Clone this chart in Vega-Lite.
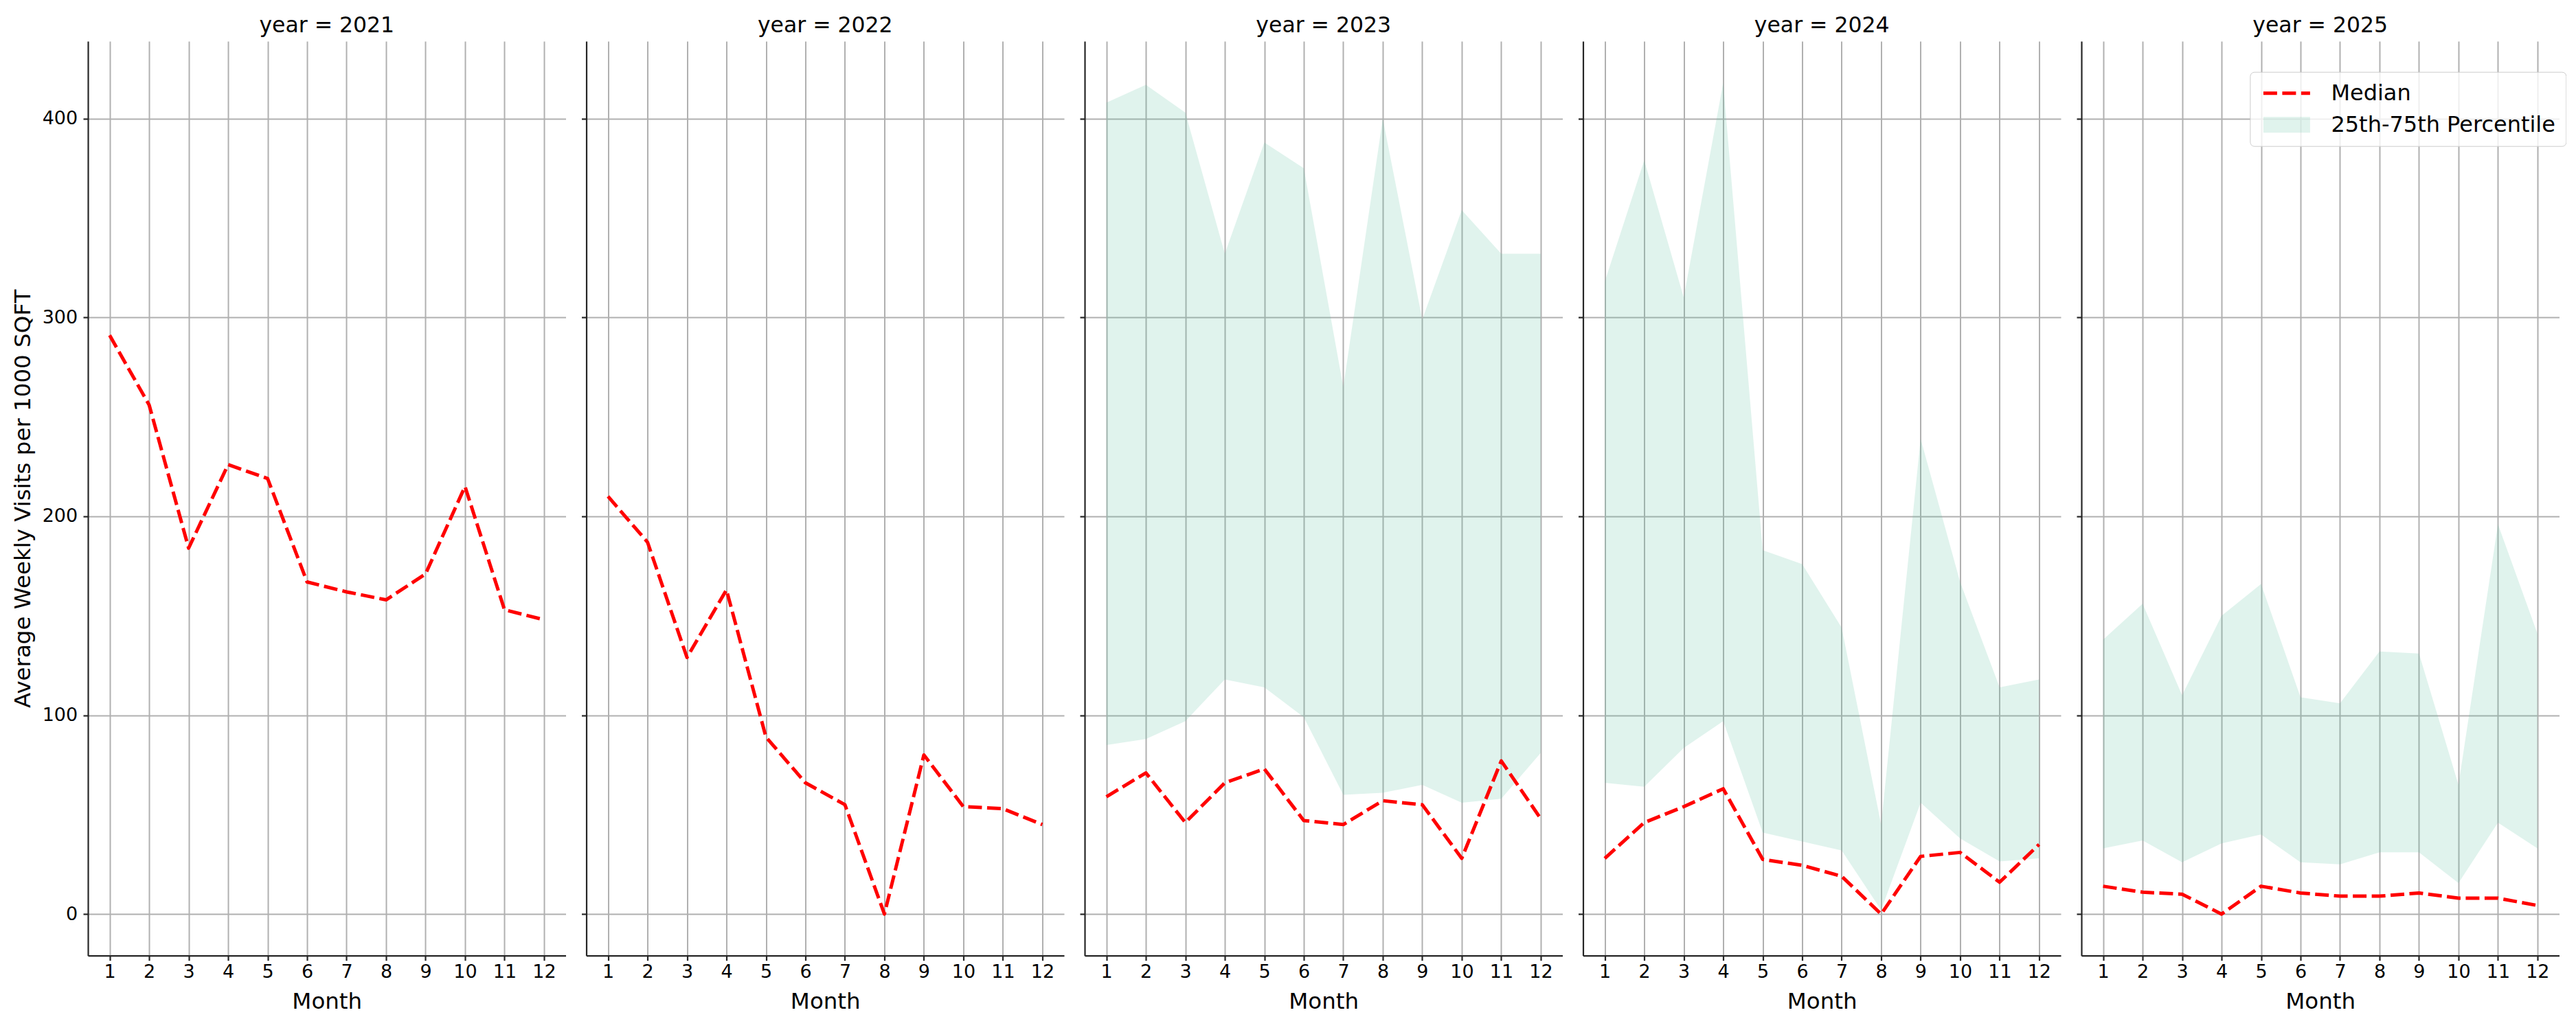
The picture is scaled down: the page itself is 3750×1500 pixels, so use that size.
{
  "$schema": "https://vega.github.io/schema/vega-lite/v6.json",
  "background": "white",
  "padding": {"left": 17, "top": 21, "right": 0, "bottom": 20},
  "spacing": 29.5,
  "bounds": "flush",
  "datasets": {
    "visits": [
      {"year": 2021, "month": 1, "median": 291, "p25": null, "p75": null},
      {"year": 2021, "month": 2, "median": 256, "p25": null, "p75": null},
      {"year": 2021, "month": 3, "median": 184, "p25": null, "p75": null},
      {"year": 2021, "month": 4, "median": 226, "p25": null, "p75": null},
      {"year": 2021, "month": 5, "median": 219, "p25": null, "p75": null},
      {"year": 2021, "month": 6, "median": 167, "p25": null, "p75": null},
      {"year": 2021, "month": 7, "median": 162, "p25": null, "p75": null},
      {"year": 2021, "month": 8, "median": 158, "p25": null, "p75": null},
      {"year": 2021, "month": 9, "median": 171, "p25": null, "p75": null},
      {"year": 2021, "month": 10, "median": 215, "p25": null, "p75": null},
      {"year": 2021, "month": 11, "median": 153, "p25": null, "p75": null},
      {"year": 2021, "month": 12, "median": 148, "p25": null, "p75": null},
      {"year": 2022, "month": 1, "median": 210, "p25": null, "p75": null},
      {"year": 2022, "month": 2, "median": 187, "p25": null, "p75": null},
      {"year": 2022, "month": 3, "median": 129, "p25": null, "p75": null},
      {"year": 2022, "month": 4, "median": 163, "p25": null, "p75": null},
      {"year": 2022, "month": 5, "median": 89, "p25": null, "p75": null},
      {"year": 2022, "month": 6, "median": 66, "p25": null, "p75": null},
      {"year": 2022, "month": 7, "median": 55, "p25": null, "p75": null},
      {"year": 2022, "month": 8, "median": 0, "p25": null, "p75": null},
      {"year": 2022, "month": 9, "median": 80, "p25": null, "p75": null},
      {"year": 2022, "month": 10, "median": 54, "p25": null, "p75": null},
      {"year": 2022, "month": 11, "median": 53, "p25": null, "p75": null},
      {"year": 2022, "month": 12, "median": 45, "p25": null, "p75": null},
      {"year": 2023, "month": 1, "median": 59, "p25": 85, "p75": 408},
      {"year": 2023, "month": 2, "median": 71, "p25": 88, "p75": 417},
      {"year": 2023, "month": 3, "median": 46, "p25": 97, "p75": 403},
      {"year": 2023, "month": 4, "median": 66, "p25": 118, "p75": 332},
      {"year": 2023, "month": 5, "median": 73, "p25": 114, "p75": 388},
      {"year": 2023, "month": 6, "median": 47, "p25": 99, "p75": 375},
      {"year": 2023, "month": 7, "median": 45, "p25": 60, "p75": 265},
      {"year": 2023, "month": 8, "median": 57, "p25": 61, "p75": 400},
      {"year": 2023, "month": 9, "median": 55, "p25": 65, "p75": 299},
      {"year": 2023, "month": 10, "median": 28, "p25": 56, "p75": 354},
      {"year": 2023, "month": 11, "median": 77, "p25": 58, "p75": 332},
      {"year": 2023, "month": 12, "median": 48, "p25": 81, "p75": 332},
      {"year": 2024, "month": 1, "median": 28, "p25": 66, "p75": 318},
      {"year": 2024, "month": 2, "median": 46, "p25": 64, "p75": 379},
      {"year": 2024, "month": 3, "median": 54, "p25": 83.5, "p75": 310},
      {"year": 2024, "month": 4, "median": 63, "p25": 97, "p75": 418},
      {"year": 2024, "month": 5, "median": 27.5, "p25": 41, "p75": 183},
      {"year": 2024, "month": 6, "median": 24.5, "p25": 36.5, "p75": 176},
      {"year": 2024, "month": 7, "median": 19, "p25": 32, "p75": 144},
      {"year": 2024, "month": 8, "median": 0, "p25": 2, "p75": 45},
      {"year": 2024, "month": 9, "median": 29, "p25": 56, "p75": 239},
      {"year": 2024, "month": 10, "median": 31, "p25": 38, "p75": 167},
      {"year": 2024, "month": 11, "median": 16, "p25": 26.5, "p75": 114},
      {"year": 2024, "month": 12, "median": 35, "p25": 28, "p75": 118},
      {"year": 2025, "month": 1, "median": 14, "p25": 33, "p75": 138},
      {"year": 2025, "month": 2, "median": 11, "p25": 37, "p75": 156},
      {"year": 2025, "month": 3, "median": 10, "p25": 26, "p75": 110},
      {"year": 2025, "month": 4, "median": 0, "p25": 35.5, "p75": 150},
      {"year": 2025, "month": 5, "median": 14, "p25": 40, "p75": 166},
      {"year": 2025, "month": 6, "median": 10.6, "p25": 26, "p75": 109},
      {"year": 2025, "month": 7, "median": 9, "p25": 25, "p75": 106},
      {"year": 2025, "month": 8, "median": 9, "p25": 31, "p75": 132},
      {"year": 2025, "month": 9, "median": 10.6, "p25": 31, "p75": 131},
      {"year": 2025, "month": 10, "median": 8, "p25": 15.6, "p75": 65},
      {"year": 2025, "month": 11, "median": 8, "p25": 46, "p75": 196},
      {"year": 2025, "month": 12, "median": 4.3, "p25": 33, "p75": 141}
    ]
  },
  "hconcat": [
    {
      "width": 695.5,
      "height": 1331.7,
      "title": "year = 2021",
      "data": {"name": "visits"},
      "transform": [{"filter": "datum.year == 2021"}],
      "encoding": {
        "x": {"field": "month", "type": "quantitative", "scale": {"domain": [0.45, 12.55], "nice": false, "zero": false}, "axis": {"values": [1, 2, 3, 4, 5, 6, 7, 8, 9, 10, 11, 12], "format": "d", "title": "Month"}}
      },
      "layer": [
        {
          "mark": {"type": "line", "color": "#ff0000", "strokeWidth": 5, "strokeDash": [20, 7.5], "strokeJoin": "round"},
          "encoding": {
            "y": {"field": "median", "type": "quantitative", "scale": {"domain": [-20.9, 438.9], "nice": false, "zero": false}, "axis": {"values": [0, 100, 200, 300, 400], "title": "Average Weekly Visits per 1000 SQFT"}}
          }
        }
      ]
    },
    {
      "width": 695.5,
      "height": 1331.7,
      "title": "year = 2022",
      "data": {"name": "visits"},
      "transform": [{"filter": "datum.year == 2022"}],
      "encoding": {
        "x": {"field": "month", "type": "quantitative", "scale": {"domain": [0.45, 12.55], "nice": false, "zero": false}, "axis": {"values": [1, 2, 3, 4, 5, 6, 7, 8, 9, 10, 11, 12], "format": "d", "title": "Month"}}
      },
      "layer": [
        {
          "mark": {"type": "line", "color": "#ff0000", "strokeWidth": 5, "strokeDash": [20, 7.5], "strokeJoin": "round"},
          "encoding": {
            "y": {"field": "median", "type": "quantitative", "scale": {"domain": [-20.9, 438.9], "nice": false, "zero": false}, "axis": {"values": [0, 100, 200, 300, 400], "title": null, "labels": false}}
          }
        }
      ]
    },
    {
      "width": 695.5,
      "height": 1331.7,
      "title": "year = 2023",
      "data": {"name": "visits"},
      "transform": [{"filter": "datum.year == 2023"}],
      "encoding": {
        "x": {"field": "month", "type": "quantitative", "scale": {"domain": [0.45, 12.55], "nice": false, "zero": false}, "axis": {"values": [1, 2, 3, 4, 5, 6, 7, 8, 9, 10, 11, 12], "format": "d", "title": "Month"}}
      },
      "layer": [
        {
          "mark": {"type": "area", "color": "#66c2a5", "opacity": 0.2},
          "encoding": {
            "y": {"field": "p25", "type": "quantitative", "scale": {"domain": [-20.9, 438.9], "nice": false, "zero": false}, "axis": {"values": [0, 100, 200, 300, 400], "title": null, "labels": false}},
            "y2": {"field": "p75"}
          }
        },
        {
          "mark": {"type": "line", "color": "#ff0000", "strokeWidth": 5, "strokeDash": [20, 7.5], "strokeJoin": "round"},
          "encoding": {
            "y": {"field": "median", "type": "quantitative", "scale": {"domain": [-20.9, 438.9], "nice": false, "zero": false}, "axis": {"values": [0, 100, 200, 300, 400], "title": null, "labels": false}}
          }
        }
      ]
    },
    {
      "width": 695.5,
      "height": 1331.7,
      "title": "year = 2024",
      "data": {"name": "visits"},
      "transform": [{"filter": "datum.year == 2024"}],
      "encoding": {
        "x": {"field": "month", "type": "quantitative", "scale": {"domain": [0.45, 12.55], "nice": false, "zero": false}, "axis": {"values": [1, 2, 3, 4, 5, 6, 7, 8, 9, 10, 11, 12], "format": "d", "title": "Month"}}
      },
      "layer": [
        {
          "mark": {"type": "area", "color": "#66c2a5", "opacity": 0.2},
          "encoding": {
            "y": {"field": "p25", "type": "quantitative", "scale": {"domain": [-20.9, 438.9], "nice": false, "zero": false}, "axis": {"values": [0, 100, 200, 300, 400], "title": null, "labels": false}},
            "y2": {"field": "p75"}
          }
        },
        {
          "mark": {"type": "line", "color": "#ff0000", "strokeWidth": 5, "strokeDash": [20, 7.5], "strokeJoin": "round"},
          "encoding": {
            "y": {"field": "median", "type": "quantitative", "scale": {"domain": [-20.9, 438.9], "nice": false, "zero": false}, "axis": {"values": [0, 100, 200, 300, 400], "title": null, "labels": false}}
          }
        }
      ]
    },
    {
      "width": 695.5,
      "height": 1331.7,
      "title": "year = 2025",
      "data": {"name": "visits"},
      "transform": [{"filter": "datum.year == 2025"}],
      "encoding": {
        "x": {"field": "month", "type": "quantitative", "scale": {"domain": [0.45, 12.55], "nice": false, "zero": false}, "axis": {"values": [1, 2, 3, 4, 5, 6, 7, 8, 9, 10, 11, 12], "format": "d", "title": "Month"}}
      },
      "layer": [
        {
          "mark": {"type": "area", "opacity": 0.2},
          "encoding": {
            "y": {"field": "p25", "type": "quantitative", "scale": {"domain": [-20.9, 438.9], "nice": false, "zero": false}, "axis": {"values": [0, 100, 200, 300, 400], "title": null, "labels": false}},
            "y2": {"field": "p75"},
            "color": {
              "datum": "25th-75th Percentile",
              "type": "nominal",
              "scale": {"domain": ["Median", "25th-75th Percentile"], "range": ["#ff0000", "#66c2a5"]},
              "legend": {
                "title": null,
                "orient": "none",
                "legendX": 3147.4,
                "legendY": 44.7,
                "labelFontSize": 32,
                "labelLimit": 0,
                "labelOffset": 71,
                "rowPadding": 14,
                "padding": 15,
                "fillColor": "rgba(255,255,255,0.8)",
                "strokeColor": "#cccccc",
                "cornerRadius": 6,
                "symbolSize": 529,
                "symbolType": "M-1,-1L4.913,-1L4.913,1L-1,1Z",
                "encoding": {
                  "symbols": {
                    "shape": {"value": {"expr": "datum.value === 'Median' ? 'M-1,0L4.913,0' : 'M-1,-1L4.913,-1L4.913,1L-1,1Z'"}},
                    "fill": {"value": {"expr": "datum.value === 'Median' ? 'transparent' : '#66c2a5'"}},
                    "fillOpacity": {"value": {"expr": "datum.value === 'Median' ? 0 : 0.2"}},
                    "stroke": {"value": {"expr": "datum.value === 'Median' ? '#ff0000' : 'transparent'"}},
                    "strokeWidth": {"value": {"expr": "datum.value === 'Median' ? 5 : 0"}},
                    "strokeDash": {"value": {"expr": "datum.value === 'Median' ? [20, 7.5] : [1, 0]"}},
                    "opacity": {"value": 1}
                  }
                }
              }
            }
          }
        },
        {
          "mark": {"type": "line", "strokeWidth": 5, "strokeDash": [20, 7.5], "strokeJoin": "round"},
          "encoding": {
            "y": {"field": "median", "type": "quantitative", "scale": {"domain": [-20.9, 438.9], "nice": false, "zero": false}, "axis": {"values": [0, 100, 200, 300, 400], "title": null, "labels": false}},
            "color": {"datum": "Median", "type": "nominal"}
          }
        }
      ]
    }
  ],
  "config": {
    "font": "DejaVu Sans",
    "view": {"stroke": null},
    "title": {"fontSize": 31.5, "fontWeight": "normal", "color": "#000000", "anchor": "middle", "frame": "group", "baseline": "alphabetic", "offset": 6.6},
    "legend": {"labelFont": "DejaVu Sans", "labelColor": "#000000"},
    "axis": {
      "domainColor": "#262626",
      "domainWidth": 2.2,
      "tickColor": "#262626",
      "tickWidth": 2.2,
      "tickSize": 7,
      "labelFontSize": 27,
      "labelColor": "#000000",
      "titleFontSize": 32.5,
      "titleFontWeight": "normal",
      "titleColor": "#000000",
      "grid": true,
      "gridColor": "#b0b0b0",
      "gridWidth": 2,
      "gridOpacity": 1
    },
    "axisX": {"labelPadding": 4, "titlePadding": 14, "labelAngle": 0, "labelFlush": false},
    "axisY": {"labelPadding": 8.3, "titlePadding": 11}
  }
}
